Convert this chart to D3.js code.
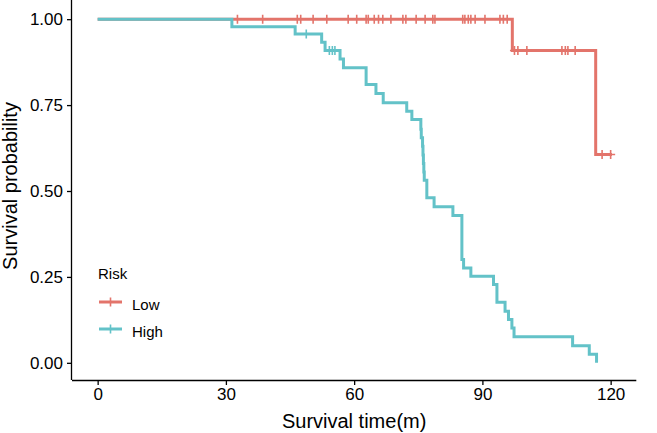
<!DOCTYPE html>
<html>
<head>
<meta charset="utf-8">
<script src="https://cdn.jsdelivr.net/npm/d3@7"></script>
<style>
  html, body { margin: 0; padding: 0; background: #ffffff; }
  svg { display: block; font-family: "Liberation Sans", Arial, Helvetica, sans-serif; }
</style>
</head>
<body>
<svg id="chart" width="657" height="433"></svg>
<script>
// ---- data ----
const groups = ["Low", "High"];
const groupColors = ["#E3746B", "#63C2C8"];

const lowTime = [0, 97, 116.5, 120.3];
const lowSurv = [1.0, 0.909, 0.606, 0.606];
const lowCensor = [32.7, 38.6, 46.7, 47.5, 50.4, 53.6, 58.6, 60.6, 62.8, 63.3, 64.7, 65.7, 66.7, 68.6,
                   71.4, 72.1, 74.5, 76.6, 78.4, 78.9, 85.4, 85.9, 86.7, 87.3, 88.3, 90.6, 94.1, 94.9, 95.8,
                   97.5, 98.3, 100.4, 108.6, 109.4, 110.0, 111.7, 118.0, 120.0];

const highTime = [0, 31.4, 46.2, 52.4, 53.2, 56.7, 57.5, 62.8, 65.1, 66.8, 72.3, 73.5,
                  75.6, 75.7, 76.0, 76.1, 76.2, 76.3, 76.4, 77.0, 78.7, 83.1, 85.2, 85.6, 87.3,
                  92.6, 93.4, 95.3, 96.1, 96.9, 97.4, 111.1, 115.0, 116.7];
const highSurv = [1.0, 0.978, 0.957, 0.933, 0.909, 0.884, 0.859, 0.810, 0.784, 0.757, 0.732, 0.708,
                  0.680, 0.655, 0.630, 0.605, 0.580, 0.555, 0.531, 0.480, 0.454, 0.429, 0.301, 0.276, 0.252,
                  0.228, 0.176, 0.150, 0.126, 0.101, 0.076, 0.050, 0.025, 0.0];
const highCensor = [48.8, 54.2, 54.9, 55.5];

const xTicks = [0, 30, 60, 90, 120];
const yTicks = [0, 0.25, 0.5, 0.75, 1.0];
const xTitle = "Survival time(m)";
const yTitle = "Survival probability";
const legendTitle = "Risk";

// ---- layout ----
const svg = d3.select("#chart");
const x = d3.scaleLinear().domain([-6, 126]).range([72, 636.3]);
const y = d3.scaleLinear().domain([-0.05, 1.05]).range([380, 2]);

// curves
function stepAt(times, survs, t) {
  let s = survs[0];
  for (let i = 0; i < times.length; i++) { if (times[i] <= t) s = survs[i]; }
  return s;
}
const line = d3.line().x(d => x(d[0])).y(d => y(d[1])).curve(d3.curveStepAfter);

const series = [
  { time: lowTime, surv: lowSurv, censor: lowCensor, color: groupColors[0] },
  { time: highTime, surv: highSurv, censor: highCensor, color: groupColors[1] }
];

const plusPath = (cx, cy, r) => `M${cx - r},${cy}H${cx + r}M${cx},${cy - r}V${cy + r}`;

series.forEach(sr => {
  const pts = sr.time.map((t, i) => [t, sr.surv[i]]);
  svg.append("path")
    .attr("d", line(pts))
    .attr("fill", "none")
    .attr("stroke", sr.color)
    .attr("stroke-width", 3);
  svg.append("g").selectAll("path")
    .data(sr.censor)
    .join("path")
    .attr("d", t => plusPath(x(t), y(stepAt(sr.time, sr.surv, t)), 4.5))
    .attr("stroke", sr.color)
    .attr("stroke-width", 1.6)
    .attr("fill", "none");
});

// axes
const xAxis = svg.append("g").attr("transform", "translate(0,380)")
  .call(d3.axisBottom(x).tickValues(xTicks).tickSizeOuter(0).tickSize(5).tickPadding(3));
const yAxis = svg.append("g").attr("transform", "translate(72,0)")
  .call(d3.axisLeft(y).tickValues(yTicks).tickFormat(d3.format(".2f")).tickSizeOuter(0).tickSize(5).tickPadding(4));
[xAxis, yAxis].forEach(a => {
  a.select(".domain").attr("stroke", "#000").attr("stroke-width", 1.3);
  a.selectAll(".tick line").attr("stroke", "#000").attr("stroke-width", 1.3);
  a.selectAll(".tick text").attr("fill", "#000")
    .style("font-size", "17px").style("font-family", "'Liberation Sans', Arial, sans-serif");
});
// x axis line covers full panel
xAxis.select(".domain").attr("d", `M72,0.5H636.3`);
yAxis.select(".domain").attr("d", `M-0.5,380V0`);

// axis titles
svg.append("text").attr("x", x(60)).attr("y", 428)
  .attr("text-anchor", "middle").style("font-size", "20px").attr("fill", "#000").text(xTitle);
svg.append("text").attr("transform", "translate(16.5,186) rotate(-90)")
  .attr("text-anchor", "middle").style("font-size", "20px").attr("fill", "#000").text(yTitle);

// legend
const legend = svg.append("g");
legend.append("text").attr("x", 98).attr("y", 279).style("font-size", "15px").attr("fill", "#000").text(legendTitle);
groups.forEach((g, i) => {
  const ky = 302 + i * 27;
  legend.append("line").attr("x1", 99).attr("x2", 122).attr("y1", ky).attr("y2", ky)
    .attr("stroke", groupColors[i]).attr("stroke-width", 3);
  legend.append("path").attr("d", plusPath(110.5, ky, 4.5))
    .attr("stroke", groupColors[i]).attr("stroke-width", 1.6);
  legend.append("text").attr("x", 132).attr("y", ky + 7.5).style("font-size", "15px").attr("fill", "#000").text(g);
});
</script>
</body>
</html>
